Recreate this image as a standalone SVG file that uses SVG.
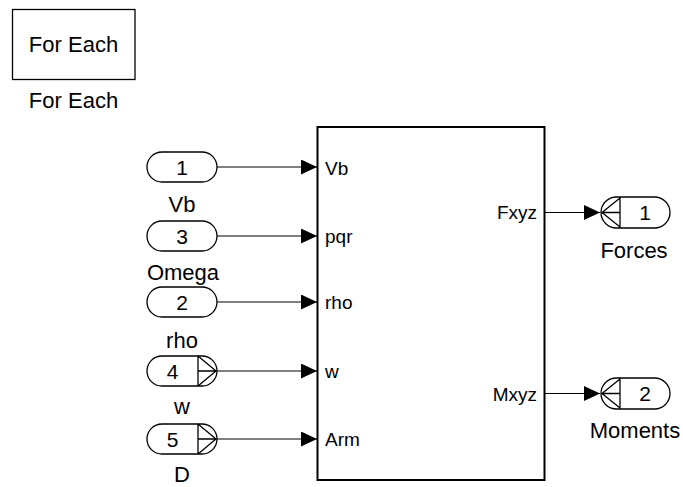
<svg xmlns="http://www.w3.org/2000/svg" width="683" height="487" viewBox="0 0 683 487">
<defs>
<style>
text{font-family:"Liberation Sans",Arial,sans-serif;fill:#000}
.lbl{font-size:22px;text-anchor:middle}
.num{font-size:21px;text-anchor:middle}
.port{font-size:19px}
.pill{fill:#fff;stroke:#000;stroke-width:1.3}
.thin{fill:none;stroke:#000;stroke-width:1.3}
.wire{fill:none;stroke:#000;stroke-width:1.2}
</style>
<marker id="ah" viewBox="0 0 16 15" refX="16" refY="7.5" markerWidth="16" markerHeight="15" markerUnits="userSpaceOnUse" orient="auto">
<path d="M0,0 L16,7.5 L0,15 Z" fill="#000"/>
</marker>
</defs>
<rect width="683" height="487" fill="#fff"/>

<g id="foreach">
<rect x="12.5" y="9.5" width="122.5" height="70" fill="#fff" stroke="#000" stroke-width="1.3"/>
<text class="lbl" x="73.5" y="52">For Each</text>
<text class="lbl" x="73.5" y="108">For Each</text>
</g>

<g id="subsystem">
<rect x="317.5" y="127" width="227" height="353" fill="#fff" stroke="#000" stroke-width="2"/>
<text class="port" x="325" y="175">Vb</text>
<text class="port" x="325" y="243">pqr</text>
<text class="port" x="325" y="309">rho</text>
<text class="port" x="325" y="378">w</text>
<text class="port" x="325" y="446">Arm</text>
<text class="port" x="537" y="219" text-anchor="end">Fxyz</text>
<text class="port" x="537" y="401" text-anchor="end">Mxyz</text>
</g>

<g id="in1">
<rect class="pill" x="147" y="152" width="70" height="30" rx="15"/>
<text class="num" x="182" y="174.5">1</text>
<text class="lbl" x="182" y="212">Vb</text>
</g>
<g id="in3">
<rect class="pill" x="147" y="221" width="70" height="30" rx="15"/>
<text class="num" x="182" y="243.5">3</text>
<text class="lbl" x="183" y="280">Omega</text>
</g>
<g id="in2">
<rect class="pill" x="147" y="287" width="70" height="30" rx="15"/>
<text class="num" x="182" y="309.5">2</text>
<text class="lbl" x="182" y="348">rho</text>
</g>
<g id="in4">
<rect class="pill" x="147" y="356" width="70" height="30" rx="15"/>
<path class="thin" d="M198,356 V386 M198,356 L216,371 L198,386 M198,371 H216"/>
<text class="num" x="172.5" y="378.5">4</text>
<text class="lbl" x="182" y="414">w</text>
</g>
<g id="in5">
<rect class="pill" x="147" y="424" width="70" height="30" rx="15"/>
<path class="thin" d="M198,424 V454 M198,424 L216,439 L198,454 M198,439 H216"/>
<text class="num" x="172.5" y="446.5">5</text>
<text class="lbl" x="182" y="482">D</text>
</g>

<g id="out1">
<rect class="pill" x="601" y="197" width="69" height="31" rx="15.5"/>
<path class="thin" d="M620,197 V228 M620,198 L602,212.5 L620,227 M602,212.5 H620"/>
<text class="num" x="645" y="220">1</text>
<text class="lbl" x="634" y="258">Forces</text>
</g>
<g id="out2">
<rect class="pill" x="601" y="378" width="69" height="31" rx="15.5"/>
<path class="thin" d="M620,378 V409 M620,379 L602,393.5 L620,408 M602,393.5 H620"/>
<text class="num" x="645" y="401">2</text>
<text class="lbl" x="635" y="438">Moments</text>
</g>

<g id="connectors">
<path class="wire" d="M217,167 H317" marker-end="url(#ah)"/>
<path class="wire" d="M217,236 H317" marker-end="url(#ah)"/>
<path class="wire" d="M217,302 H317" marker-end="url(#ah)"/>
<path class="wire" d="M217,371 H317" marker-end="url(#ah)"/>
<path class="wire" d="M217,439 H317" marker-end="url(#ah)"/>
<path class="wire" d="M545,212.5 H600" marker-end="url(#ah)"/>
<path class="wire" d="M545,393.5 H600" marker-end="url(#ah)"/>
</g>
</svg>
